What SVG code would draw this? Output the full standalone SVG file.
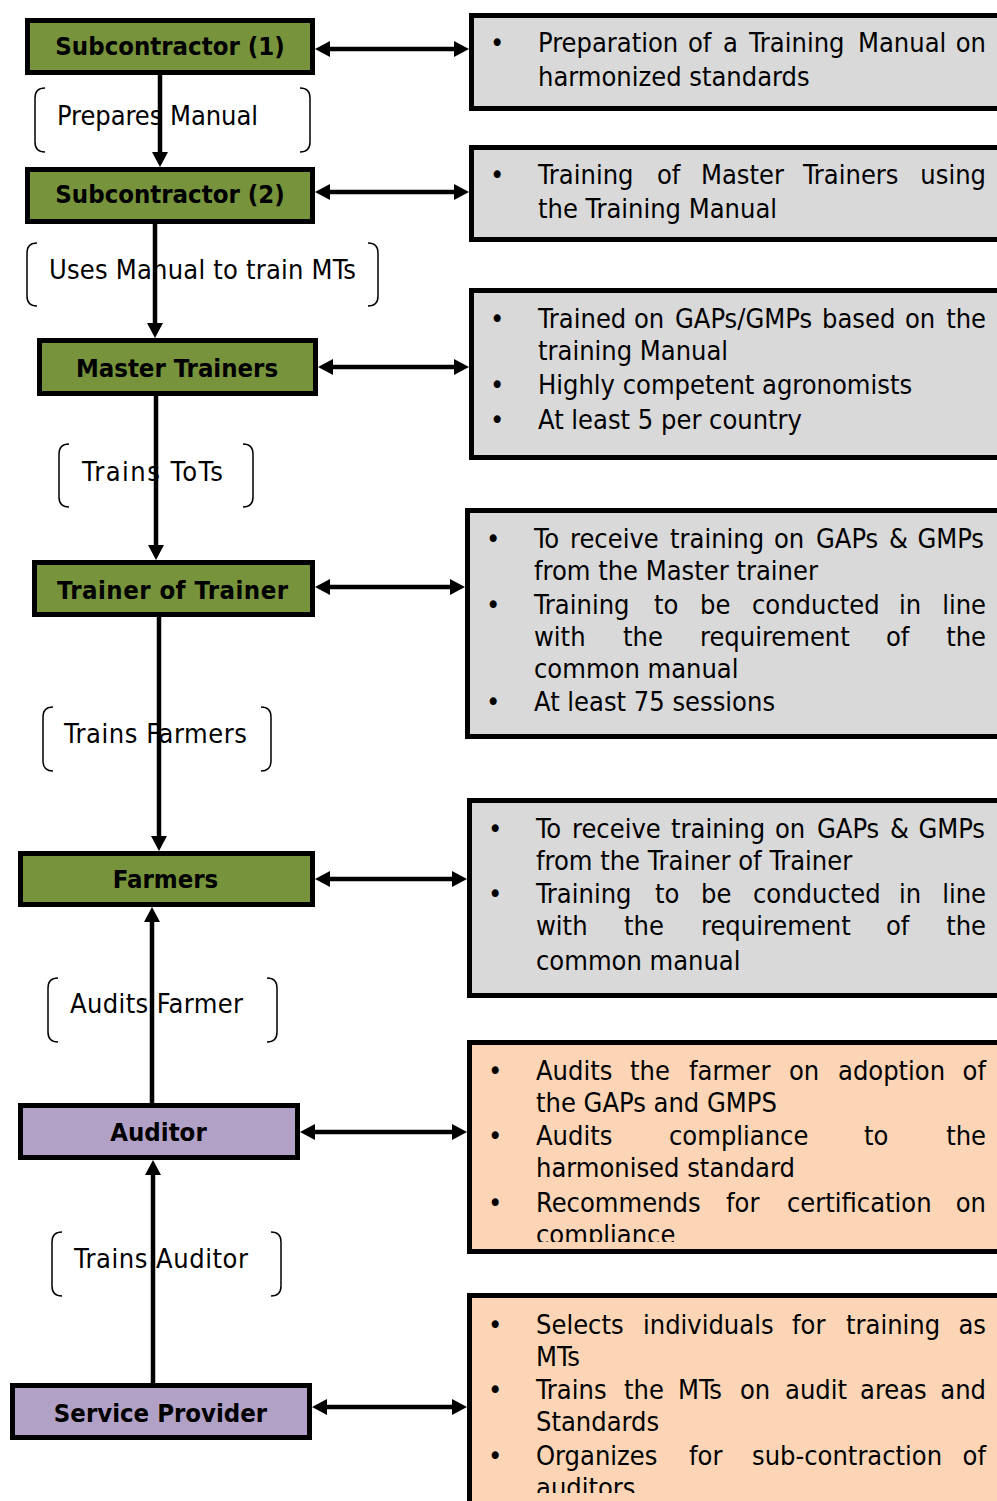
<svg xmlns="http://www.w3.org/2000/svg" width="997" height="1501" viewBox="0 0 997 1501">
  <style>
    .node { stroke: #000; stroke-width: 5; }
    .green { fill: #77933c; }
    .purple { fill: #b2a1c7; }
    .grey { fill: #d9d9d9; stroke: #000; stroke-width: 5; }
    .peach { fill: #fbd5b5; stroke: #000; stroke-width: 5; }
    .nt { font-family: "DejaVu Sans Condensed", "DejaVu Sans", sans-serif; font-stretch: condensed; font-weight: bold; font-size: 25.5px; fill: #000; text-anchor: middle; }
    .bt { font-family: "DejaVu Sans Condensed", "DejaVu Sans", sans-serif; font-stretch: condensed; font-size: 27px; fill: #000; }
    .lbl { font-family: "DejaVu Sans Condensed", "DejaVu Sans", sans-serif; font-stretch: condensed; font-size: 27px; fill: #000; }
    .end { text-anchor: end; }
    .brace { fill: none; stroke: #000; stroke-width: 1.5; }
    .wire { fill: none; stroke: #000; stroke-width: 4.5; }
    .one { marker-end: url(#head); }
    .two { marker-start: url(#head); marker-end: url(#head); }
  </style>
  <defs>
    <marker id="head" viewBox="0 0 15 16" markerWidth="15" markerHeight="16" refX="1" refY="8" orient="auto-start-reverse" markerUnits="userSpaceOnUse">
      <path d="M0,0 L15,8 L0,16 Z" fill="#000"/>
    </marker>
    <clipPath id="clipF"><rect x="470" y="1045" width="530" height="197"/></clipPath>
    <clipPath id="clipG"><rect x="470" y="1298" width="530" height="195"/></clipPath>
  </defs>

  <rect width="997" height="1501" fill="#fff"/>

  <!-- bracketed edge labels -->
  <g id="labels">
    <g id="lbl-prepares">
      <path class="brace" d="M45,88 Q35,88 35,98 V142 Q35,152 45,152 M300,88 Q310,88 310,98 V142 Q310,152 300,152"/>
      <text class="lbl" x="57" y="125" textLength="201" lengthAdjust="spacing">Prepares Manual</text>
    </g>
    <g id="lbl-uses">
      <path class="brace" d="M37,243 Q27,243 27,253 V296 Q27,306 37,306 M368,243 Q378,243 378,253 V296 Q378,306 368,306"/>
      <text class="lbl" x="49" y="279" textLength="307" lengthAdjust="spacing">Uses Manual to train MTs</text>
    </g>
    <g id="lbl-tots">
      <path class="brace" d="M69,444 Q59,444 59,454 V497 Q59,507 69,507 M243,444 Q253,444 253,454 V497 Q253,507 243,507"/>
      <text class="lbl" x="82" y="481" textLength="141" lengthAdjust="spacing">Trains ToTs</text>
    </g>
    <g id="lbl-farmers">
      <path class="brace" d="M53,707 Q43,707 43,717 V761 Q43,771 53,771 M261,707 Q271,707 271,717 V761 Q271,771 261,771"/>
      <text class="lbl" x="64" y="743" textLength="183" lengthAdjust="spacing">Trains Farmers</text>
    </g>
    <g id="lbl-audits">
      <path class="brace" d="M58,978 Q48,978 48,988 V1032 Q48,1042 58,1042 M267,978 Q277,978 277,988 V1032 Q277,1042 267,1042"/>
      <text class="lbl" x="70" y="1013" textLength="173" lengthAdjust="spacing">Audits Farmer</text>
    </g>
    <g id="lbl-auditor">
      <path class="brace" d="M62,1232 Q52,1232 52,1242 V1286 Q52,1296 62,1296 M271,1232 Q281,1232 281,1242 V1286 Q281,1296 271,1296"/>
      <text class="lbl" x="74" y="1268" textLength="174" lengthAdjust="spacing">Trains Auditor</text>
    </g>
  </g>

  <!-- connectors -->
  <g id="connectors">
    <path class="wire one" d="M160,75 V153"/>
    <path class="wire one" d="M155,224 V324"/>
    <path class="wire one" d="M156,396 V546"/>
    <path class="wire one" d="M159,617 V837"/>
    <path class="wire one" d="M152,1103 V921"/>
    <path class="wire one" d="M153,1383 V1174"/>
    <path class="wire two" d="M329,49 H455"/>
    <path class="wire two" d="M329,192 H455"/>
    <path class="wire two" d="M332,367 H455"/>
    <path class="wire two" d="M329,587 H451"/>
    <path class="wire two" d="M329,879 H453"/>
    <path class="wire two" d="M314,1132 H453"/>
    <path class="wire two" d="M326,1407 H453"/>
  </g>

  <!-- role boxes -->
  <g id="sub1">
    <rect class="node green" x="27.5" y="20.5" width="285" height="52"/>
    <text class="nt" x="170" y="55">Subcontractor (1)</text>
  </g>
  <g id="sub2">
    <rect class="node green" x="27.5" y="169.5" width="285" height="52"/>
    <text class="nt" x="170" y="203">Subcontractor (2)</text>
  </g>
  <g id="master-trainers">
    <rect class="node green" x="39.5" y="340.5" width="276" height="53"/>
    <text class="nt" x="177" y="377">Master Trainers</text>
  </g>
  <g id="trainer-of-trainer">
    <rect class="node green" x="34.5" y="562.5" width="278" height="52"/>
    <text class="nt" x="172.5" y="599" textLength="231" lengthAdjust="spacing">Trainer of Trainer</text>
  </g>
  <g id="farmers">
    <rect class="node green" x="20.5" y="853.5" width="292" height="51"/>
    <text class="nt" x="165.5" y="888">Farmers</text>
  </g>
  <g id="auditor">
    <rect class="node purple" x="20.5" y="1105.5" width="277" height="52"/>
    <text class="nt" x="158.5" y="1141">Auditor</text>
  </g>
  <g id="service-provider">
    <rect class="node purple" x="12.5" y="1385.5" width="297" height="52"/>
    <text class="nt" x="160.5" y="1422">Service Provider</text>
  </g>

  <!-- description boxes; justified lines place each word, last word flush right -->
  <g id="desc-sub1">
    <rect class="grey" x="471.5" y="15.5" width="540" height="93"/>
    <text class="bt" x="490" y="52">•</text>
    <text class="bt" y="52"><tspan x="538">Preparation</tspan><tspan x="688">of</tspan><tspan x="723">a</tspan><tspan x="749">Training</tspan><tspan x="858">Manual</tspan><tspan class="end" x="986">on</tspan></text>
    <text class="bt" x="538" y="86">harmonized standards</text>
  </g>
  <g id="desc-sub2">
    <rect class="grey" x="471.5" y="147.5" width="540" height="92"/>
    <text class="bt" x="490" y="184">•</text>
    <text class="bt" y="184"><tspan x="538">Training</tspan><tspan x="657">of</tspan><tspan x="701">Master</tspan><tspan x="803">Trainers</tspan><tspan class="end" x="986">using</tspan></text>
    <text class="bt" x="538" y="218">the Training Manual</text>
  </g>
  <g id="desc-master">
    <rect class="grey" x="471.5" y="290.5" width="540" height="167"/>
    <text class="bt" x="490" y="328">•</text>
    <text class="bt" y="328"><tspan x="538">Trained</tspan><tspan x="634">on</tspan><tspan x="675">GAPs/GMPs</tspan><tspan x="822">based</tspan><tspan x="905">on</tspan><tspan class="end" x="986">the</tspan></text>
    <text class="bt" x="538" y="360">training Manual</text>
    <text class="bt" x="490" y="394">•</text>
    <text class="bt" x="538" y="394">Highly competent agronomists</text>
    <text class="bt" x="490" y="429">•</text>
    <text class="bt" x="538" y="429">At least 5 per country</text>
  </g>
  <g id="desc-tot">
    <rect class="grey" x="467.5" y="510.5" width="540" height="226"/>
    <text class="bt" x="486" y="548">•</text>
    <text class="bt" y="548"><tspan x="534">To</tspan><tspan x="570">receive</tspan><tspan x="670">training</tspan><tspan x="774">on</tspan><tspan x="816">GAPs</tspan><tspan x="889">&amp;</tspan><tspan class="end" x="984">GMPs</tspan></text>
    <text class="bt" x="534" y="580">from the Master trainer</text>
    <text class="bt" x="486" y="614">•</text>
    <text class="bt" y="614"><tspan x="534">Training</tspan><tspan x="654">to</tspan><tspan x="700">be</tspan><tspan x="752">conducted</tspan><tspan x="899">in</tspan><tspan class="end" x="986">line</tspan></text>
    <text class="bt" y="646"><tspan x="534">with</tspan><tspan x="623">the</tspan><tspan x="700">requirement</tspan><tspan x="886">of</tspan><tspan class="end" x="986">the</tspan></text>
    <text class="bt" x="534" y="678">common manual</text>
    <text class="bt" x="486" y="711">•</text>
    <text class="bt" x="534" y="711">At least 75 sessions</text>
  </g>
  <g id="desc-farmers">
    <rect class="grey" x="469.5" y="800.5" width="540" height="195"/>
    <text class="bt" x="488" y="838">•</text>
    <text class="bt" y="838"><tspan x="536">To</tspan><tspan x="572">receive</tspan><tspan x="671">training</tspan><tspan x="775">on</tspan><tspan x="817">GAPs</tspan><tspan x="890">&amp;</tspan><tspan class="end" x="985">GMPs</tspan></text>
    <text class="bt" x="536" y="870">from the Trainer of Trainer</text>
    <text class="bt" x="488" y="903">•</text>
    <text class="bt" y="903"><tspan x="536">Training</tspan><tspan x="655">to</tspan><tspan x="701">be</tspan><tspan x="753">conducted</tspan><tspan x="899">in</tspan><tspan class="end" x="986">line</tspan></text>
    <text class="bt" y="935"><tspan x="536">with</tspan><tspan x="624">the</tspan><tspan x="701">requirement</tspan><tspan x="886">of</tspan><tspan class="end" x="986">the</tspan></text>
    <text class="bt" x="536" y="970">common manual</text>
  </g>
  <g id="desc-auditor">
    <rect class="peach" x="469.5" y="1042.5" width="540" height="209"/>
    <g clip-path="url(#clipF)">
      <text class="bt" x="488" y="1080">•</text>
      <text class="bt" y="1080"><tspan x="536">Audits</tspan><tspan x="630">the</tspan><tspan x="689">farmer</tspan><tspan x="789">on</tspan><tspan x="838">adoption</tspan><tspan class="end" x="986">of</tspan></text>
      <text class="bt" x="536" y="1112">the GAPs and GMPS</text>
      <text class="bt" x="488" y="1145">•</text>
      <text class="bt" y="1145"><tspan x="536">Audits</tspan><tspan x="669">compliance</tspan><tspan x="864">to</tspan><tspan class="end" x="986">the</tspan></text>
      <text class="bt" x="536" y="1177">harmonised standard</text>
      <text class="bt" x="488" y="1212">•</text>
      <text class="bt" y="1212"><tspan x="536">Recommends</tspan><tspan x="726">for</tspan><tspan x="787">certification</tspan><tspan class="end" x="986">on</tspan></text>
      <text class="bt" x="536" y="1244">compliance</text>
    </g>
  </g>
  <g id="desc-provider">
    <rect class="peach" x="469.5" y="1295.5" width="540" height="230"/>
    <g clip-path="url(#clipG)">
      <text class="bt" x="488" y="1334">•</text>
      <text class="bt" y="1334"><tspan x="536">Selects</tspan><tspan x="643">individuals</tspan><tspan x="792">for</tspan><tspan x="846">training</tspan><tspan class="end" x="986">as</tspan></text>
      <text class="bt" x="536" y="1366">MTs</text>
      <text class="bt" x="488" y="1399">•</text>
      <text class="bt" y="1399"><tspan x="536">Trains</tspan><tspan x="624">the</tspan><tspan x="678">MTs</tspan><tspan x="740">on</tspan><tspan x="785">audit</tspan><tspan x="860">areas</tspan><tspan class="end" x="986">and</tspan></text>
      <text class="bt" x="536" y="1431">Standards</text>
      <text class="bt" x="488" y="1465">•</text>
      <text class="bt" y="1465"><tspan x="536">Organizes</tspan><tspan x="689">for</tspan><tspan x="752">sub-contraction</tspan><tspan class="end" x="986">of</tspan></text>
      <text class="bt" x="536" y="1497">auditors</text>
    </g>
  </g>
</svg>
